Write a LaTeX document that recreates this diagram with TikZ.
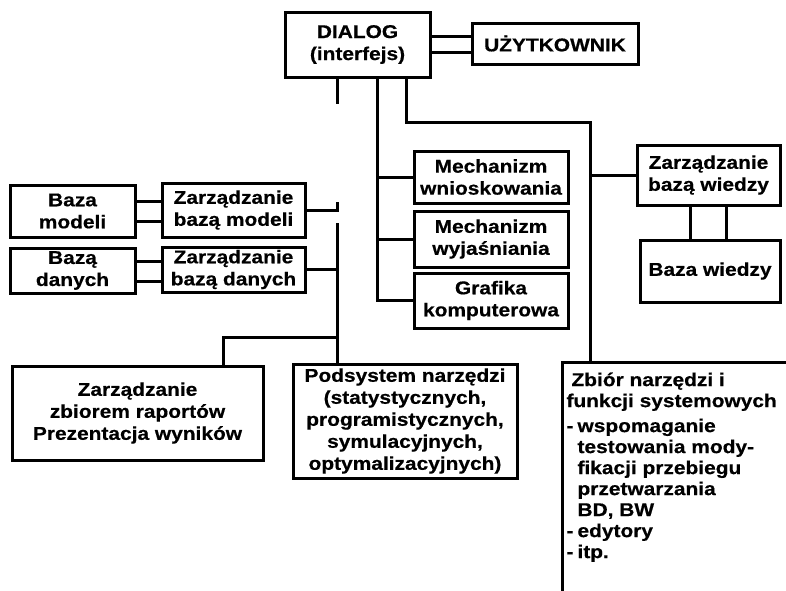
\documentclass[tikz,border=0pt]{standalone}
\usepackage{fontspec}
\setmainfont{Liberation Sans}[FakeStretch=1.13,BoldFeatures={FakeBold=0.5}]
\usetikzlibrary{calc}
\begin{document}
\begin{tikzpicture}[x=1pt,y=-1pt,
  line width=3pt,
  box/.style={draw,line width=3pt,inner sep=0pt,align=center,
    font=\bfseries\fontsize{18.5}{22}\selectfont},
  txt/.style={inner sep=0pt,align=left,
    font=\bfseries\fontsize{18.5}{21}\selectfont}]
\clip (0,0) rectangle (786,590);
\fill[white] (0,0) rectangle (786,590);

% top: dialogue module and user
\node[box,minimum width=145pt,minimum height=65pt] (dialog) at (357.5,44.5) {DIALOG\\(interfejs)};
\node[box,minimum width=166pt,minimum height=41pt] (user) at (555,43.5) {UŻYTKOWNIK};

% inference, explanation, graphics
\node[box,minimum width=154pt,minimum height=52pt] (mw) at (491,177) {Mechanizm\\wnioskowania};
\node[box,minimum width=154pt,minimum height=56pt] (my) at (491,239) {Mechanizm\\wyjaśniania};
\node[box,minimum width=154pt,minimum height=55pt] (graf) at (491,300.5) {Grafika\\komputerowa};

% knowledge base
\node[box,minimum width=143pt,minimum height=60pt] (zbw) at (708.5,175) {Zarządzanie\\bazą wiedzy};
\node[box,minimum width=140pt,minimum height=62pt] (bw) at (710,271) {Baza wiedzy};

% model base and database
\node[box,minimum width=125pt,minimum height=52pt] (bm) at (72.5,211) {Baza\\modeli};
\node[box,minimum width=143pt,minimum height=54pt] (zbm) at (233.5,210) {Zarządzanie\\bazą modeli};
\node[box,minimum width=125pt,minimum height=45pt] (bd) at (72.5,270.5) {Bazą\\danych};
\node[box,minimum width=143pt,minimum height=45pt] (zbd) at (233.5,269.5) {Zarządzanie\\bazą danych};

% reports and tools
\node[box,minimum width=251pt,minimum height=94pt] (rap) at (137.5,413) {Zarządzanie\\zbiorem raportów\\Prezentacja wyników};
\node[box,minimum width=224pt,minimum height=114pt] (pod) at (405,421) {Podsystem narzędzi\\(statystycznych,\\programistycznych,\\symulacyjnych,\\optymalizacyjnych)};

% system tools (box runs off the page)
\node[draw,line width=3pt,minimum width=258pt,minimum height=258pt,inner sep=0pt] (zbior) at (691,491) {};
\node[txt,anchor=north west] (zbiorTxt) at (565,371) {\hspace*{5pt}Zbiór narzędzi i\\
funkcji systemowych\\[4pt]
\makebox[11pt][l]{-}wspomaganie\\
\hspace*{11pt}testowania mody-\\
\hspace*{11pt}fikacji przebiegu\\
\hspace*{11pt}przetwarzania\\
\hspace*{11pt}BD, BW\\
\makebox[11pt][l]{-}edytory\\
\makebox[11pt][l]{-}itp.};

% bus positions
\coordinate (busL) at (337,0);
\coordinate (busM) at (377,0);
\coordinate (busR) at (406,0);
\coordinate (busK) at (590,0);
\coordinate (lTop) at (337,223);
\coordinate (rapJ) at (337,337);
\coordinate (rapK) at (223,337);

% dialogue <-> user (double link)
\draw ([yshift=8pt]dialog.east) -- ([yshift=8pt]dialog.east -| user.west);
\draw ([yshift=-8pt]dialog.east) -- ([yshift=-8pt]dialog.east -| user.west);

% left bus
\draw (dialog.south -| busL) -- ++(0,25);
\draw (zbm.east) -- (zbm.east -| busL) -- ++(0,-8);
\draw (lTop) -- (lTop |- pod.north);
\draw (zbd.east) -- (zbd.east -| busL);
\draw (rapJ) -- (rapK) -- (rapK |- rap.north);

% middle bus
\draw (dialog.south -| busM) |- (graf.west);
\draw (mw.west -| busM) -- (mw.west);
\draw (my.west -| busM) -- (my.west);

% right bus
\draw (dialog.south -| busR) -- ++(0,44) -| (zbior.north -| busK);
\draw (zbw.west -| busK) -- (zbw.west);

% double links
\draw ([yshift=10pt]bm.east) -- ([yshift=10pt]bm.east -| zbm.west);
\draw ([yshift=-10pt]bm.east) -- ([yshift=-10pt]bm.east -| zbm.west);
\draw ([yshift=9pt]bd.east) -- ([yshift=9pt]bd.east -| zbd.west);
\draw ([yshift=-11pt]bd.east) -- ([yshift=-11pt]bd.east -| zbd.west);
\draw ([xshift=-18pt]zbw.south) -- ([xshift=-18pt]zbw.south |- bw.north);
\draw ([xshift=18pt]zbw.south) -- ([xshift=18pt]zbw.south |- bw.north);
\end{tikzpicture}
\end{document}
